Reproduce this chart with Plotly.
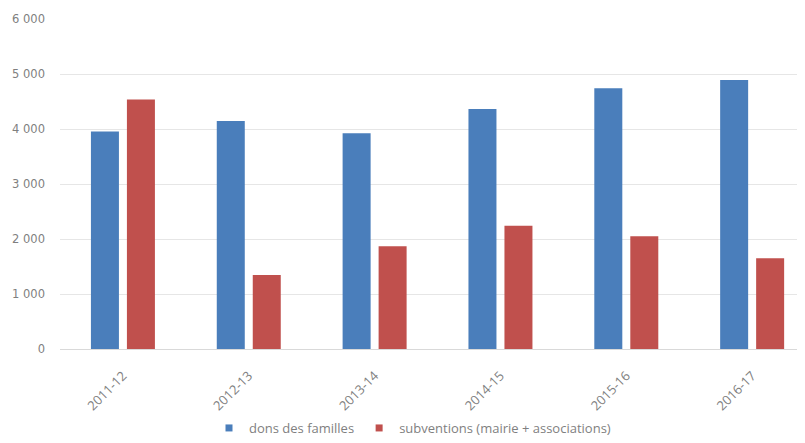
import plotly.graph_objects as go

categories = ["2011-12", "2012-13", "2013-14", "2014-15", "2015-16", "2016-17"]
dons_familles = [3955, 4145, 3925, 4365, 4740, 4890]
subventions = [4535, 1345, 1870, 2240, 2050, 1650]
series_names = ["dons des familles", "subventions (mairie + associations)"]
series_colors = ["#4A7EBB", "#C0504D"]
y_ticks = [0, 1000, 2000, 3000, 4000, 5000, 6000]

fig = go.Figure()
for vals, name, col in zip([dons_familles, subventions], series_names, series_colors):
    fig.add_trace(go.Bar(x=categories, y=vals, name=name, showlegend=False,
                         marker=dict(color=col, line=dict(width=0))))
# legend entries with small square keys
for name, col in zip(series_names, series_colors):
    fig.add_trace(go.Scatter(x=[None], y=[None], mode="markers", name=name,
                             marker=dict(symbol="square", size=7, color=col)))

fig.update_layout(
    width=797, height=435,
    margin=dict(l=52, r=0, t=11, b=93),
    paper_bgcolor="white", plot_bgcolor="white",
    barmode="group", bargap=0.428, bargroupgap=0.222,
    separators=", ",
    font=dict(family="Open Sans", size=13, color="#7F7F7F"),
    showlegend=True,
    legend=dict(orientation="h", x=0.2, xanchor="left", y=-0.193, yanchor="top",
                bgcolor="rgba(0,0,0,0)",
                font=dict(size=13, color="#7F7F7F"), itemwidth=30,
                traceorder="normal"),
    xaxis=dict(type="category", range=[-0.5, 5.42], showgrid=False, tickangle=-45,
               ticks="", showline=True, linecolor="#D9D9D9", linewidth=1,
               automargin=False, ticklabelstandoff=13,
               tickfont=dict(size=13, color="#7F7F7F")),
    yaxis=dict(range=[0, 6000], tickvals=y_ticks, tickformat=",d", showgrid=True,
               gridcolor="#E6E6E6", gridwidth=1, zeroline=False, showline=False,
               ticks="", ticklen=0, automargin=False, ticklabelstandoff=14,
               tickfont=dict(family="DejaVu Sans", size=11.5, color="#7F7F7F")),
)

fig.write_html("out.html")
